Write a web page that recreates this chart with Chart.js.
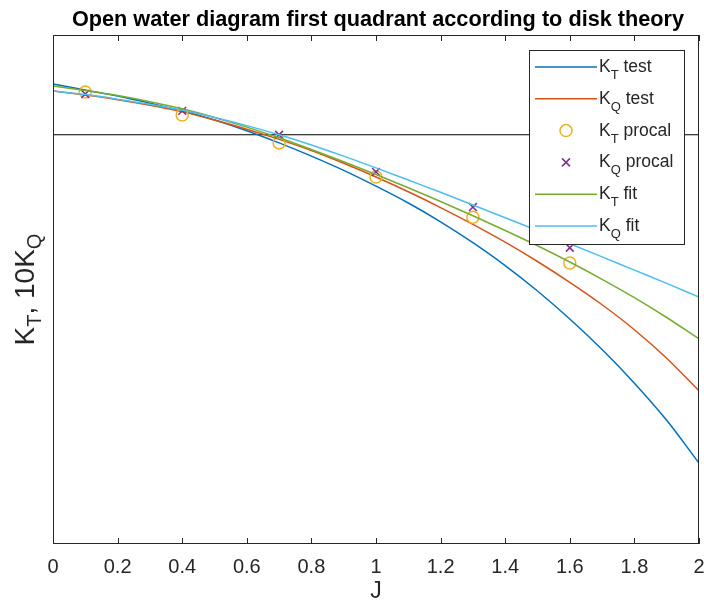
<!DOCTYPE html>
<html>
<head>
<meta charset="utf-8">
<script src="https://cdn.jsdelivr.net/npm/chart.js@4.4.1/dist/chart.umd.min.js"></script>
<style>
  html, body { margin: 0; padding: 0; background: #fff; }
  #wrap { width: 704px; height: 606px; }
</style>
</head>
<body>
<div id="wrap"><canvas id="c" width="704" height="606"></canvas></div>
<script>
"use strict"

// advance ratio grid for the curves
const jFine = [0, 0.1, 0.2, 0.3, 0.4, 0.5, 0.6, 0.7, 0.8, 0.9, 1.0,
               1.1, 1.2, 1.3, 1.4, 1.5, 1.6, 1.7, 1.8, 1.9, 2.0];

// curves (y axis has no labels in the original, values in relative units)
const ktTest = [0.904, 0.892, 0.880, 0.866, 0.851, 0.833, 0.812, 0.788, 0.762, 0.734, 0.703,
                0.670, 0.633, 0.592, 0.547, 0.497, 0.442, 0.382, 0.316, 0.243, 0.159];
const kqTest = [0.890, 0.882, 0.873, 0.862, 0.849, 0.833, 0.815, 0.795, 0.773, 0.748, 0.721,
                0.692, 0.661, 0.628, 0.593, 0.555, 0.514, 0.470, 0.421, 0.365, 0.301];
const ktFit  = [0.900, 0.891, 0.881, 0.869, 0.855, 0.838, 0.819, 0.798, 0.775, 0.751, 0.726,
                0.700, 0.673, 0.645, 0.616, 0.586, 0.554, 0.520, 0.484, 0.445, 0.403];
const kqFit  = [0.890, 0.883, 0.874, 0.864, 0.852, 0.838, 0.822, 0.804, 0.784, 0.762, 0.739,
                0.715, 0.691, 0.666, 0.641, 0.616, 0.590, 0.564, 0.538, 0.512, 0.485];

// procal points
const jProcal  = [0.1, 0.4, 0.7, 1.0, 1.3, 1.6];
const ktProcal = [0.888, 0.843, 0.788, 0.721, 0.642, 0.552];
const kqProcal = [0.884, 0.851, 0.804, 0.731, 0.662, 0.582];

// black horizontal reference line
const refLineY = 0.804;

// axis
const xTicks = [0, 0.2, 0.4, 0.6, 0.8, 1, 1.2, 1.4, 1.6, 1.8, 2];
const xTickLabels = ['0', '0.2', '0.4', '0.6', '0.8', '1', '1.2', '1.4', '1.6', '1.8', '2'];

const strTitle = 'Open water diagram first quadrant according to disk theory';
const strXLabel = 'J';

// legend entries: [main, subscript, rest]
const legendLabels = [
    ['K', 'T', ' test'],
    ['K', 'Q', ' test'],
    ['K', 'T', ' procal'],
    ['K', 'Q', ' procal'],
    ['K', 'T', ' fit'],
    ['K', 'Q', ' fit']
];

const colBlue = '#0072BD';
const colOrange = '#D95319';
const colYellow = '#EDB120';
const colPurple = '#7E2F8E';
const colGreen = '#77AC30';
const colCyan = '#4DBEEE';
const axisColor = '#262626';
const fontFam = '"Liberation Sans", Arial, Helvetica, sans-serif';

function toPts(xs, ys){
    return xs.map(function(x, i){ return {x: x, y: ys[i]}; });
}

function lineSet(label, xs, ys, color, order){
    return {
        label: label,
        data: toPts(xs, ys),
        showLine: true,
        borderColor: color,
        borderWidth: 1.5,
        pointRadius: 0,
        cubicInterpolationMode: 'monotone',
        order: order
    };
}

// draws main text with a subscript, returns the x after it
function drawSub(ctx, x, y, parts, size, subSize, subDrop){
    for(let i = 0; i < parts.length; i++){
        const isSub = (i % 2 == 1);
        ctx.font = (isSub ? subSize : size) + 'px ' + fontFam;
        ctx.fillText(parts[i], x, isSub ? y + subDrop : y);
        x += ctx.measureText(parts[i]).width;
    }
    return x;
}

function subWidth(ctx, parts, size, subSize){
    let w = 0;
    for(let i = 0; i < parts.length; i++){
        ctx.font = (i % 2 == 1 ? subSize : size) + 'px ' + fontFam;
        w += ctx.measureText(parts[i]).width;
    }
    return w;
}

const decor = {
    id: 'decor',
    afterDatasetsDraw(chart){
        const ctx = chart.ctx;
        const a = chart.chartArea;
        const x = chart.scales.x;
        ctx.save();

        // axes box
        ctx.strokeStyle = axisColor;
        ctx.lineWidth = 1;
        ctx.strokeRect(a.left + 0.5, a.top + 0.5, a.right - a.left - 1, a.bottom - a.top - 1);

        // inward ticks on top and bottom
        ctx.beginPath();
        xTicks.forEach(function(v){
            const px = Math.round(x.getPixelForValue(v)) + 0.5;
            ctx.moveTo(px, a.bottom);
            ctx.lineTo(px, a.bottom - 6);
            ctx.moveTo(px, a.top);
            ctx.lineTo(px, a.top + 6);
        });
        ctx.stroke();

        // legend box
        const lx = 529, ly = 50, lw = 155, lh = 194;
        ctx.fillStyle = '#fff';
        ctx.fillRect(lx, ly, lw, lh);
        ctx.strokeRect(lx + 0.5, ly + 0.5, lw, lh);

        const styles = [
            {type: 'line', color: colBlue},
            {type: 'line', color: colOrange},
            {type: 'circle', color: colYellow},
            {type: 'cross', color: colPurple},
            {type: 'line', color: colGreen},
            {type: 'line', color: colCyan}
        ];
        legendLabels.forEach(function(parts, i){
            const yLine = 67 + 31.8 * i;
            const st = styles[i];
            ctx.strokeStyle = st.color;
            ctx.lineWidth = 1.5;
            ctx.beginPath();
            if(st.type == 'line'){
                ctx.moveTo(535, yLine);
                ctx.lineTo(597, yLine);
            }else if(st.type == 'circle'){
                ctx.arc(566, yLine, 6, 0, Math.PI * 2);
            }else{
                ctx.moveTo(562, yLine - 4);
                ctx.lineTo(570, yLine + 4);
                ctx.moveTo(570, yLine - 4);
                ctx.lineTo(562, yLine + 4);
            }
            ctx.stroke();
            ctx.fillStyle = axisColor;
            ctx.textBaseline = 'alphabetic';
            ctx.textAlign = 'left';
            drawSub(ctx, 599, yLine + 5, parts, 17.5, 13, 7);
        });

        // title
        ctx.fillStyle = '#000';
        ctx.textAlign = 'center';
        ctx.textBaseline = 'alphabetic';
        ctx.font = 'bold 21.7px ' + fontFam;
        ctx.fillText(strTitle, (a.left + a.right) / 2 + 2, 26);

        // y axis label with subscripts
        const yParts = ['K', 'T', ', 10K', 'Q'];
        ctx.translate(34, (a.top + a.bottom) / 2);
        ctx.rotate(-Math.PI / 2);
        ctx.textAlign = 'left';
        ctx.fillStyle = axisColor;
        const w = subWidth(ctx, yParts, 28, 20);
        drawSub(ctx, -w / 2, 0, yParts, 28, 20, 7);
        ctx.restore();
    }
};

new Chart('c', {
    type: 'scatter',
    data: {
        datasets: [
            {
                label: 'ref',
                data: [{x: 0, y: refLineY}, {x: 2, y: refLineY}],
                showLine: true,
                borderColor: '#000',
                borderWidth: 1.2,
                pointRadius: 0,
                order: 7
            },
            lineSet('KT test', jFine, ktTest, colBlue, 6),
            lineSet('KQ test', jFine, kqTest, colOrange, 5),
            {
                label: 'KT procal',
                data: toPts(jProcal, ktProcal),
                pointStyle: 'circle',
                pointRadius: 6,
                borderColor: colYellow,
                backgroundColor: 'rgba(0,0,0,0)',
                borderWidth: 1.5,
                order: 4
            },
            {
                label: 'KQ procal',
                data: toPts(jProcal, kqProcal),
                pointStyle: 'crossRot',
                pointRadius: 5.5,
                borderColor: colPurple,
                borderWidth: 1.5,
                order: 3
            },
            lineSet('KT fit', jFine, ktFit, colGreen, 2),
            lineSet('KQ fit', jFine, kqFit, colCyan, 1)
        ]
    },
    plugins: [decor],
    options: {
        responsive: false,
        animation: false,
        layout: {autoPadding: false, padding: {left: 53, right: 5, top: 35, bottom: 0}},
        plugins: {
            legend: {display: false},
            tooltip: {enabled: false},
            title: {display: false}
        },
        scales: {
            x: {
                type: 'linear',
                min: 0,
                max: 2,
                afterFit: function(scale){
                    scale.height = 62;
                    scale.paddingLeft = 0;
                    scale.paddingRight = 0;
                },
                afterBuildTicks: function(scale){
                    scale.ticks = xTicks.map(function(v){ return {value: v}; });
                },
                grid: {display: false, drawTicks: false},
                border: {display: false},
                ticks: {
                    padding: 11,
                    color: axisColor,
                    font: {family: fontFam, size: 20},
                    maxRotation: 0,
                    autoSkip: false,
                    callback: function(v){
                        const i = xTicks.indexOf(v);
                        return i >= 0 ? xTickLabels[i] : '';
                    }
                },
                title: {
                    display: true,
                    text: strXLabel,
                    color: axisColor,
                    font: {family: fontFam, size: 23},
                    padding: {top: 0, bottom: 1}
                }
            },
            y: {
                type: 'linear',
                display: false,
                min: 0,
                max: 1
            }
        }
    }
});
</script>
</body>
</html>
